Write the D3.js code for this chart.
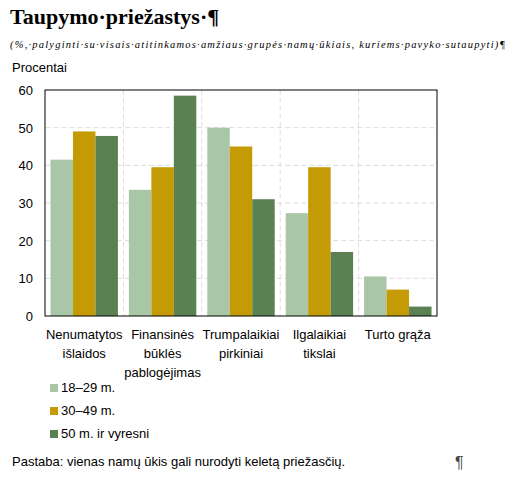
<!DOCTYPE html>
<html><head><meta charset="utf-8">
<script src="https://cdn.jsdelivr.net/npm/d3@7"></script>
<style>body{margin:0;background:#fff}</style>
</head><body>
<svg id="c" width="524" height="487"></svg>
<script>
const categories = [["Nenumatytos","išlaidos"],["Finansinės","būklės","pablogėjimas"],["Trumpalaikiai","pirkiniai"],["Ilgalaikiai","tikslai"],["Turto grąža"]];
const seriesNames = ["18–29 m.","30–49 m.","50 m. ir vyresni"];
const s1 = [41.5, 33.5, 50, 27.3, 10.5];
const s2 = [49, 39.5, 45, 39.5, 7];
const s3 = [47.8, 58.5, 31, 17, 2.5];
const yTicks = [0,10,20,30,40,50,60];
const colors = ["#a9c7a7","#c49b04","#5b8153"];
const series = [s1,s2,s3];

const svg = d3.select("#c");
const L=45,R=437,T=90,B=316;
const x = d3.scaleBand().domain(d3.range(categories.length)).range([L,R]).paddingInner(0.14).paddingOuter(0.07);
const xs = d3.scaleBand().domain(d3.range(3)).range([0,x.bandwidth()]);
const y = d3.scaleLinear().domain([0,60]).range([B,T]);

svg.append("text").attr("x",10).attr("y",24).attr("font-family","Liberation Serif").attr("font-weight","bold").attr("font-size",22).text("Taupymo·priežastys·¶");
svg.append("text").attr("x",10).attr("y",48).attr("font-family","Liberation Serif").attr("font-style","italic").attr("font-size",10.5).attr("textLength",495).text("(%,·palyginti·su·visais·atitinkamos·amžiaus·grupės·namų·ūkiais, kuriems·pavyko·sutaupyti)¶");
svg.append("text").attr("x",12).attr("y",72).attr("font-family","Liberation Sans").attr("font-size",13).text("Procentai");

const g = svg.append("g").attr("font-family","Liberation Sans");
yTicks.filter(d=>d>0&&d<60).forEach(t=>g.append("line").attr("x1",L).attr("x2",R).attr("y1",y(t)).attr("y2",y(t)).attr("stroke","#ddd").attr("stroke-dasharray","5,3"));
for(let i=1;i<categories.length;i++){const xx=x(i)-x.step()*x.paddingInner()/2;
  g.append("line").attr("x1",xx).attr("x2",xx).attr("y1",T).attr("y2",B).attr("stroke","#ddd").attr("stroke-dasharray","5,3");}
series.forEach((s,j)=>g.selectAll(null).data(s).join("rect")
  .attr("x",(d,i)=>x(i)+xs(j)).attr("width",xs.bandwidth())
  .attr("y",d=>y(d)).attr("height",d=>B-y(d)).attr("fill",colors[j]));
g.append("rect").attr("x",L).attr("y",T).attr("width",R-L).attr("height",B-T).attr("fill","none").attr("stroke","#000");
yTicks.forEach(t=>g.append("text").attr("x",L-12).attr("y",y(t)+5).attr("text-anchor","end").attr("font-size",13).text(t));
categories.forEach((c,i)=>{const t=g.append("text").attr("x",x(i)+x.bandwidth()/2).attr("y",339).attr("text-anchor","middle").attr("font-size",13);
  c.forEach((l,k)=>t.append("tspan").attr("x",x(i)+x.bandwidth()/2).attr("dy",k?19:0).text(l));});
seriesNames.forEach((n,j)=>{const yy=392+j*23;
  g.append("rect").attr("x",50).attr("y",yy-8).attr("width",8).attr("height",8).attr("fill",colors[j]);
  g.append("text").attr("x",61).attr("y",yy).attr("font-size",13).text(n);});
svg.append("text").attr("x",12).attr("y",466).attr("font-family","Liberation Sans").attr("font-size",13).text("Pastaba: vienas namų ūkis gali nurodyti keletą priežasčių.");
svg.append("text").attr("x",455).attr("y",468).attr("font-family","Liberation Sans").attr("font-size",16).attr("fill","#444").text("¶");
</script></body></html>
